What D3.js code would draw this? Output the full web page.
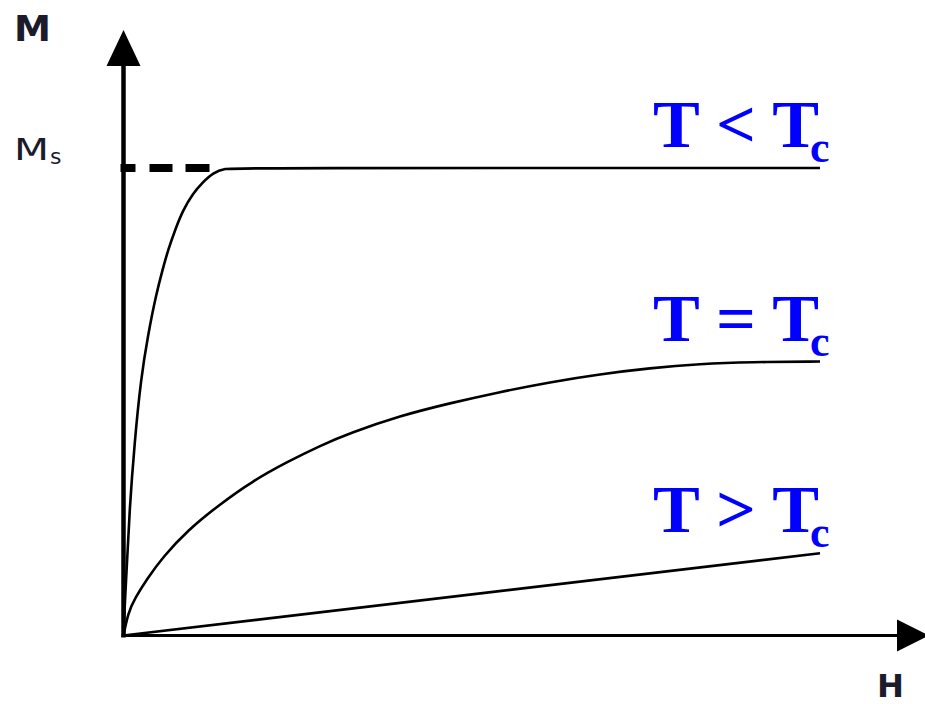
<html>
<head>
    <script src="https://d3js.org/d3.v7.min.js"></script>
    <style>
        body { margin: 0; background: white; }
    </style>
</head>

<body>
    <svg id="chart"></svg>

    <script>
        // field H (arbitrary units 0..100), magnetisation M (in units of Ms)
        var hLow  = [0, 0.14, 0.43, 0.86, 1.58, 2.51, 3.52, 4.66, 5.67, 6.39, 7.39, 8.54, 9.98, 11.41, 12.85, 14.57, 16.5, 100];
        var mLow  = [0, 0.055, 0.134, 0.268, 0.412, 0.551, 0.643, 0.728, 0.786, 0.824, 0.867, 0.910, 0.946, 0.970, 0.990, 0.999, 1.0, 1.0];
        var hCrit = [0, 0.65, 1.65, 3.37, 5.67, 9.12, 13.85, 18.59, 23.47, 28.21, 32.52, 39.69, 46.88, 54.05, 61.23, 68.41, 75.59, 82.77, 89.95, 100];
        var mCrit = [0, 0.048, 0.080, 0.121, 0.168, 0.224, 0.281, 0.331, 0.371, 0.406, 0.433, 0.470, 0.497, 0.521, 0.542, 0.559, 0.572, 0.581, 0.585, 0.586];
        var hHigh = [0, 100];
        var mHigh = [0, 0.176];

        var curveNames = ["T < T", "T = T", "T > T"];
        var msLabel = "M";
        var msSub = "s";
        var msDashEnd = 12.5;   // H where the Ms dashed guide stops

        var W = 925, H = 704;
        var svg = d3.select("#chart").attr("width", W).attr("height", H);

        var x = d3.scaleLinear().domain([0, 100]).range([123.5, 820]);
        var y = d3.scaleLinear().domain([0, 1]).range([635.5, 168]);

        var ink = "#1b1b2b";

        // axes with arrow heads
        var x0 = x(0), y0 = y(0);
        svg.append("line")
            .attr("x1", x0).attr("y1", y0 + 2).attr("x2", x0).attr("y2", 62)
            .attr("stroke", "black").attr("stroke-width", 4.5);
        svg.append("path")
            .attr("d", "M" + x0 + ",30 L" + (x0 - 17) + ",66 L" + (x0 + 17) + ",66 Z")
            .attr("fill", "black");
        svg.append("line")
            .attr("x1", x0 - 2).attr("y1", y0).attr("x2", 900).attr("y2", y0)
            .attr("stroke", "black").attr("stroke-width", 3);
        svg.append("path")
            .attr("d", "M929," + y0 + " L897," + (y0 - 16) + " L897," + (y0 + 16) + " Z")
            .attr("fill", "black");

        // Ms dashed guide
        svg.append("line")
            .attr("x1", x0 - 3).attr("y1", y(1)).attr("x2", x(msDashEnd)).attr("y2", y(1))
            .attr("stroke", "black").attr("stroke-width", 8)
            .attr("stroke-dasharray", "15,14,23,13,24,40");

        var line = d3.line()
            .x(function(d){ return x(d[0]); })
            .y(function(d){ return y(d[1]); })
            .curve(d3.curveBasis);

        var curves = [
            d3.zip(hLow, mLow),
            d3.zip(hCrit, mCrit),
            d3.zip(hHigh, mHigh)
        ];

        svg.selectAll(".curve")
            .data(curves)
            .enter()
            .append("path").classed("curve", true)
            .attr("d", line)
            .attr("fill", "none")
            .attr("stroke", "black")
            .attr("stroke-width", 2.6);

        // temperature labels, sitting above each curve's end
        var labels = svg.selectAll(".tlabel")
            .data(curves)
            .enter()
            .append("g").classed("tlabel", true)
            .attr("transform", function(d){
                var last = d[d.length - 1];
                return "translate(" + (x(last[0]) - 167) + "," + (y(last[1]) - 21) + ")";
            });

        labels.append("text")
            .attr("x", 0).attr("y", 0)
            .attr("font-family", "Liberation Serif, Times New Roman, serif")
            .attr("font-weight", "bold")
            .attr("font-size", 67)
            .attr("fill", "#0000ff")
            .attr("textLength", 166)
            .attr("lengthAdjust", "spacingAndGlyphs")
            .text(function(d, i){ return curveNames[i]; });

        labels.append("text")
            .attr("x", 157).attr("y", 15)
            .attr("font-family", "Liberation Serif, Times New Roman, serif")
            .attr("font-weight", "bold")
            .attr("font-size", 44)
            .attr("fill", "#0000ff")
            .text("c");

        // axis titles
        svg.append("text")
            .attr("x", 14).attr("y", 41)
            .attr("font-family", "DejaVu Sans, sans-serif")
            .attr("font-weight", "bold")
            .attr("font-size", 35)
            .attr("fill", ink)
            .attr("textLength", 37)
            .attr("lengthAdjust", "spacingAndGlyphs")
            .text("M");

        svg.append("text")
            .attr("x", 877).attr("y", 697)
            .attr("font-family", "DejaVu Sans, sans-serif")
            .attr("font-weight", "bold")
            .attr("font-size", 32)
            .attr("fill", ink)
            .attr("textLength", 27)
            .attr("lengthAdjust", "spacingAndGlyphs")
            .text("H");

        // Ms tick label
        svg.append("text")
            .attr("x", 14).attr("y", 160)
            .attr("font-family", "DejaVu Sans, sans-serif")
            .attr("font-size", 31)
            .attr("fill", ink)
            .attr("textLength", 35)
            .attr("lengthAdjust", "spacingAndGlyphs")
            .text(msLabel);
        svg.append("text")
            .attr("x", 50).attr("y", 164)
            .attr("font-family", "DejaVu Sans, sans-serif")
            .attr("font-size", 22)
            .attr("fill", ink)
            .text(msSub);
    </script>
</body>
</html>
